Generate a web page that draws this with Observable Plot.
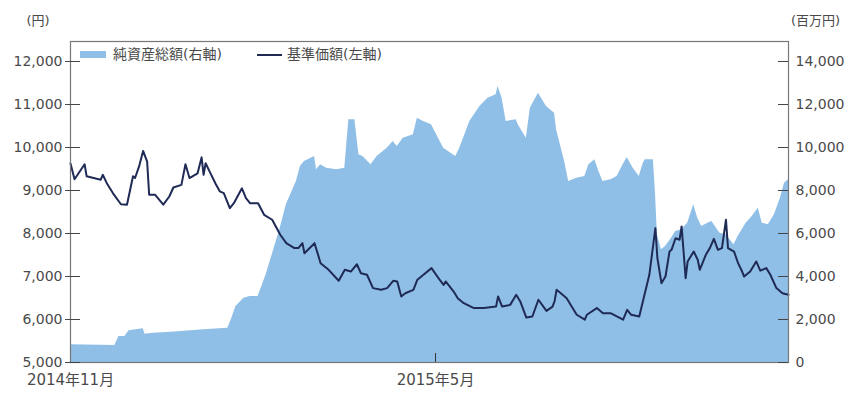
<!DOCTYPE html>
<html><head><meta charset="utf-8">
<script src="https://cdn.jsdelivr.net/npm/d3@7"></script>
<script src="https://cdn.jsdelivr.net/npm/@observablehq/plot@0.6"></script>
<style>
body{margin:0;background:#fff;}
#chart{width:852px;height:394px;}
</style></head><body><div id="chart"></div>
<script>
// 純資産総額(右軸, 百万円)
const navDates = ["2014-11-01","2014-11-23","2014-11-25","2014-11-28","2014-11-30","2014-12-07","2014-12-08","2014-12-12","2014-12-21","2015-01-06","2015-01-18","2015-01-20","2015-01-22","2015-01-26","2015-01-29","2015-02-02","2015-02-06","2015-02-10","2015-02-13","2015-02-16","2015-02-21","2015-02-23","2015-02-25","2015-03-02","2015-03-03","2015-03-05","2015-03-08","2015-03-13","2015-03-17","2015-03-19","2015-03-22","2015-03-24","2015-03-26","2015-03-30","2015-04-02","2015-04-07","2015-04-10","2015-04-12","2015-04-15","2015-04-20","2015-04-22","2015-04-25","2015-04-29","2015-05-02","2015-05-05","2015-05-11","2015-05-13","2015-05-18","2015-05-23","2015-05-27","2015-05-31","2015-06-01","2015-06-03","2015-06-05","2015-06-10","2015-06-11","2015-06-15","2015-06-17","2015-06-21","2015-06-25","2015-06-29","2015-06-30","2015-07-04","2015-07-06","2015-07-10","2015-07-14","2015-07-16","2015-07-19","2015-07-21","2015-07-23","2015-07-27","2015-07-30","2015-08-02","2015-08-04","2015-08-07","2015-08-10","2015-08-12","2015-08-13","2015-08-17","2015-08-18","2015-08-19","2015-08-21","2015-08-23","2015-08-26","2015-08-28","2015-08-31","2015-09-03","2015-09-06","2015-09-08","2015-09-10","2015-09-13","2015-09-15","2015-09-19","2015-09-22","2015-09-26","2015-09-28","2015-10-02","2015-10-05","2015-10-08","2015-10-10","2015-10-13","2015-10-16","2015-10-19","2015-10-21","2015-10-23"];
const navValues = [820,790,1210,1210,1475,1565,1315,1365,1410,1520,1595,2060,2605,2990,3070,3070,4080,5315,6245,7335,8420,9115,9350,9580,8965,9195,9035,8965,9035,11290,11290,9660,9580,9195,9580,9965,10280,10045,10430,10590,11360,11210,11055,10510,9965,9580,9965,11210,11905,12295,12450,12835,12295,11210,11290,11055,10430,11825,12525,11905,11595,10825,9350,8420,8570,8650,9195,9430,8885,8420,8495,8650,9195,9535,9035,8650,9270,9430,9430,7955,5940,5240,5395,5780,6095,6170,6480,7335,6710,6325,6480,6560,6015,5940,5475,5860,6480,6790,7175,6480,6405,6870,7640,8340,8500];

// 基準価額(左軸, 円)
const priceDates = ["2014-11-01","2014-11-03","2014-11-08","2014-11-09","2014-11-16","2014-11-17","2014-11-19","2014-11-22","2014-11-26","2014-11-29","2014-12-02","2014-12-03","2014-12-05","2014-12-07","2014-12-09","2014-12-10","2014-12-13","2014-12-17","2014-12-20","2014-12-22","2014-12-26","2014-12-28","2014-12-30","2015-01-03","2015-01-05","2015-01-06","2015-01-07","2015-01-09","2015-01-12","2015-01-14","2015-01-16","2015-01-19","2015-01-21","2015-01-25","2015-01-27","2015-01-29","2015-02-02","2015-02-05","2015-02-09","2015-02-13","2015-02-16","2015-02-20","2015-02-22","2015-02-24","2015-02-25","2015-03-02","2015-03-05","2015-03-09","2015-03-14","2015-03-17","2015-03-20","2015-03-23","2015-03-25","2015-03-28","2015-03-31","2015-04-04","2015-04-07","2015-04-10","2015-04-12","2015-04-14","2015-04-16","2015-04-20","2015-04-22","2015-04-25","2015-04-29","2015-05-03","2015-05-05","2015-05-06","2015-05-10","2015-05-12","2015-05-15","2015-05-20","2015-05-25","2015-05-31","2015-06-01","2015-06-03","2015-06-07","2015-06-10","2015-06-12","2015-06-15","2015-06-18","2015-06-21","2015-06-25","2015-06-28","2015-06-29","2015-06-30","2015-07-03","2015-07-05","2015-07-10","2015-07-14","2015-07-15","2015-07-20","2015-07-23","2015-07-27","2015-08-02","2015-08-04","2015-08-06","2015-08-10","2015-08-12","2015-08-15","2015-08-18","2015-08-19","2015-08-21","2015-08-23","2015-08-25","2015-08-26","2015-08-28","2015-08-30","2015-08-31","2015-09-02","2015-09-03","2015-09-06","2015-09-08","2015-09-09","2015-09-12","2015-09-14","2015-09-16","2015-09-18","2015-09-20","2015-09-22","2015-09-23","2015-09-26","2015-09-28","2015-09-30","2015-10-01","2015-10-04","2015-10-07","2015-10-09","2015-10-12","2015-10-14","2015-10-17","2015-10-20","2015-10-23"];
const priceValues = [9630,9260,9610,9330,9250,9365,9170,8940,8680,8670,9330,9290,9560,9920,9670,8900,8900,8670,8860,9070,9130,9610,9290,9400,9770,9365,9635,9440,9150,8980,8940,8590,8705,9050,8820,8705,8705,8435,8320,7970,7775,7660,7660,7775,7540,7775,7310,7155,6900,7155,7115,7285,7075,7040,6730,6690,6730,6900,6885,6535,6610,6690,6925,7040,7195,6925,6805,6885,6650,6495,6380,6265,6265,6300,6535,6300,6340,6575,6420,6045,6070,6460,6200,6300,6420,6690,6575,6495,6110,5995,6110,6265,6145,6145,5995,6225,6110,6070,6460,7040,8125,7425,6845,7000,7580,7620,7890,7855,8165,6960,7350,7580,7390,7155,7505,7660,7875,7620,7660,8320,7660,7580,7310,7115,7000,7115,7350,7135,7195,7040,6730,6610,6575];

const leftTicks = [5000,6000,7000,8000,9000,10000,11000,12000];
const xTicks = ["2014-11-01","2015-05-01"];
const legendLabels = ["純資産総額(右軸)","基準価額(左軸)"];
const unitLabels = ["(円)","(百万円)"];

const nav = navDates.map((d,i)=>({date:new Date(d), value:navValues[i]}));
const price = priceDates.map((d,i)=>({date:new Date(d), value:priceValues[i]}));
const toLeft = v => 5000 + v/2;   // right axis (0–14,000) onto left scale (5,000–12,000)
const font = '"DejaVu Sans","Noto Sans CJK JP",sans-serif';
const areaColor = "#8fbfe7";
const lineColor = "#1f2a55";
const textColor = "#4a4a4a";

const plot = Plot.plot({
  width: 852, height: 394,
  marginLeft: 70, marginRight: 64, marginTop: 41, marginBottom: 32,
  style: {fontFamily: font, fontSize: "14px", color: textColor, background: "#fff"},
  x: {type: "utc", domain: [new Date("2014-11-01"), new Date("2015-10-23")]},
  y: {domain: [5000, 12465]},
  marks: [
    Plot.areaY(nav, {x: "date", y1: 5000, y2: d => toLeft(d.value), fill: areaColor}),
    Plot.line(price, {x: "date", y: "value", stroke: lineColor, strokeWidth: 2}),
    Plot.frame({stroke: "#777", strokeWidth: 1.2}),
    Plot.axisY(leftTicks, {anchor: "left", tickSize: 5, tickPadding: 3, label: null,
      tickFormat: d => d.toLocaleString("en-US"), fontSize: 14, fill: textColor}),
    Plot.ruleY(leftTicks, {insetRight: 708, stroke: "#444"}),
    Plot.axisY(leftTicks, {anchor: "right", tickSize: 0, tickPadding: 7, label: null,
      tickFormat: d => ((d - 5000) * 2).toLocaleString("en-US"), fontSize: 14, fill: textColor}),
    Plot.ruleY(leftTicks, {insetLeft: 708, stroke: "#444"}),
    Plot.axisX(xTicks.map(d => new Date(d)), {tickSize: 0, tickPadding: 12, label: null,
      tickFormat: d => `${d.getUTCFullYear()}年${d.getUTCMonth() + 1}月`, fontSize: 15, fill: textColor}),
    Plot.ruleX([new Date(xTicks[1])], {insetTop: 312, stroke: "#333"}),
    (index, scales, values, dims) => {
      const g = d3.create("svg:g").attr("font-family", font).attr("fill", textColor)
        .attr("text-anchor", "start");
      const ml = 70, mr = 788;
      g.append("text").attr("x", ml - 32).attr("y", 21).attr("text-anchor", "middle")
        .attr("dominant-baseline", "middle").attr("font-size", 13).text(unitLabels[0]);
      g.append("text").attr("x", mr + 3).attr("y", 21)
        .attr("dominant-baseline", "middle").attr("font-size", 13).text(unitLabels[1]);
      g.append("rect").attr("x", ml + 10).attr("y", 51).attr("width", 26).attr("height", 7).attr("fill", areaColor);
      g.append("text").attr("x", ml + 43).attr("y", 55).attr("dominant-baseline", "middle")
        .attr("font-size", 14).text(legendLabels[0]);
      g.append("line").attr("x1", ml + 187).attr("x2", ml + 212).attr("y1", 55).attr("y2", 55)
        .attr("stroke", lineColor).attr("stroke-width", 2);
      g.append("text").attr("x", ml + 217).attr("y", 55).attr("dominant-baseline", "middle")
        .attr("font-size", 14).text(legendLabels[1]);
      return g.node();
    }
  ]
});
document.getElementById("chart").appendChild(plot);
</script></body></html>
